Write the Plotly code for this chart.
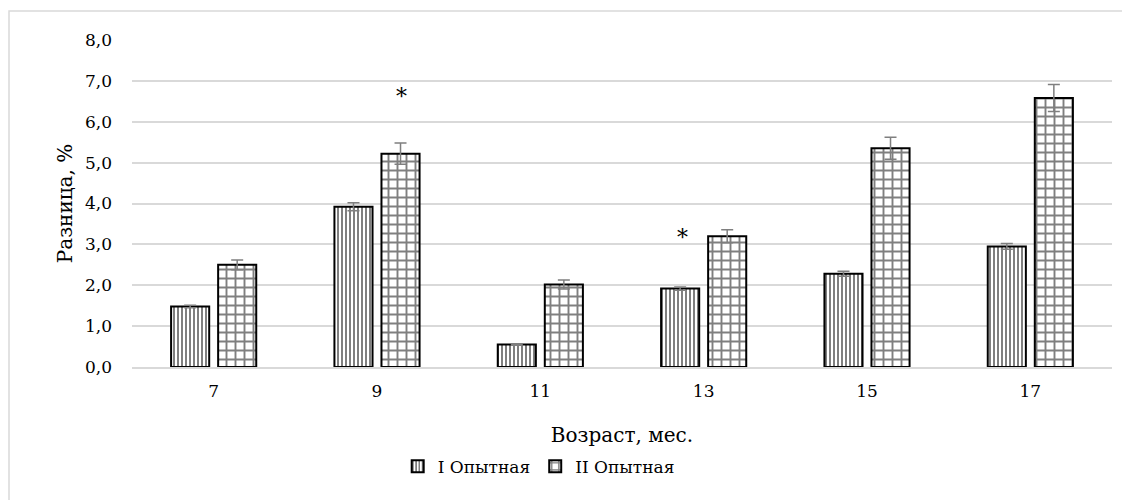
import plotly.graph_objects as go

ages = ["7", "9", "11", "13", "15", "17"]
group1_name = "I Опытная"
group2_name = "II Опытная"
group1_vals = [1.48, 3.92, 0.55, 1.92, 2.28, 2.95]
group1_err = [0.03, 0.10, 0.02, 0.04, 0.06, 0.07]
group2_vals = [2.50, 5.22, 2.02, 3.20, 5.35, 6.58]
group2_err = [0.12, 0.26, 0.11, 0.16, 0.27, 0.33]
star_ages = ["9", "13"]
star_vals = [6.62, 3.18]
star_shift = [24, -21]

FONT = "DejaVu Serif"

fig = go.Figure()
fig.add_trace(go.Bar(
    name=group1_name, x=ages, y=group1_vals,
    error_y=dict(type="data", array=group1_err, color="#7f7f7f", thickness=1.5, width=6),
    marker=dict(color="white", line=dict(color="black", width=2),
                pattern=dict(shape="|", size=4, solidity=0.5, fgcolor="black", bgcolor="white")),
))
fig.add_trace(go.Bar(
    name=group2_name, x=ages, y=group2_vals,
    error_y=dict(type="data", array=group2_err, color="#7f7f7f", thickness=1.5, width=6),
    marker=dict(color="white", line=dict(color="black", width=2),
                pattern=dict(shape="+", size=9, solidity=0.38, fgcolor="black", bgcolor="white")),
))

for a, v, s in zip(star_ages, star_vals, star_shift):
    fig.add_annotation(x=ages.index(a), y=v, text="*", showarrow=False, xshift=s,
                       font=dict(family=FONT, size=22, color="black"))

fig.update_layout(
    width=1130, height=500,
    margin=dict(l=124, r=26, t=32, b=141, autoexpand=False),
    paper_bgcolor="white", plot_bgcolor="white",
    barmode="group", bargap=0.424, bargroupgap=0.19,
    separators=", ",
    font=dict(family=FONT, size=17, color="black"),
    showlegend=True,
    legend=dict(orientation="h", x=0.415, xanchor="center", y=-0.25, yanchor="top",
                font=dict(family=FONT, size=17, color="black"), itemwidth=30),
    xaxis=dict(type="category", automargin=False, range=[-0.5, 5.5],
               title=dict(text="Возраст, мес.", font=dict(family=FONT, size=20), standoff=28),
               showline=True, linecolor="#d9d9d9", linewidth=1.5, ticks="",
               ticklabelstandoff=8, tickfont=dict(family=FONT, size=17)),
    yaxis=dict(automargin=False,
               title=dict(text="Разница, %", font=dict(family=FONT, size=20), standoff=6),
               range=[0, 8], dtick=1, tickformat=".1f",
               showgrid=True, gridcolor="#d9d9d9", gridwidth=1.5,
               zeroline=False, showline=False, ticks="",
               ticklabelstandoff=19, tickfont=dict(family=FONT, size=17)),
    shapes=[dict(type="rect", xref="paper", yref="paper",
                 x0=-0.1255, y0=-0.45, x1=1.05, y1=1.0885,
                 line=dict(color="#d9d9d9", width=1.5), fillcolor="rgba(0,0,0,0)", layer="below")],
)

fig.write_html("out.html")
